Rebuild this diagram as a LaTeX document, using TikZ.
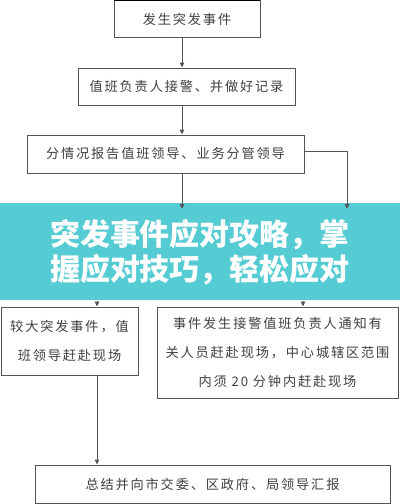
\documentclass[tikz,border=0pt]{standalone}
\usepackage{fontspec}
\setmainfont{Noto Sans CJK SC}
\newfontfamily\boxfont[LetterSpace=14]{Noto Sans CJK SC}
\usetikzlibrary{arrows.meta}
\definecolor{banner}{HTML}{55CBD4}
\definecolor{linec}{HTML}{555555}
\definecolor{txtc}{HTML}{404040}
\tikzset{
  boxnode/.style={draw=linec, line width=0.9pt, rectangle, inner sep=0pt, align=center,
    font=\boxfont\fontsize{13.2pt}{29pt}\selectfont, text=txtc},
  conn/.style={draw=linec, line width=0.9pt, -{Triangle[length=5pt,width=4.5pt]}},
  plain/.style={draw=linec, line width=0.9pt}
}
\begin{document}
\begin{tikzpicture}[x=1pt,y=-1pt]
\useasboundingbox (0,0) rectangle (400,504);
\fill[white] (0,0) rectangle (400,504);
% boxes
\node[boxnode, minimum width=146pt, minimum height=37pt] (b1) at (187,19) {发生突发事件};
\node[boxnode, minimum width=217pt, minimum height=37pt] (b2) at (186.5,86.5) {值班负责人接警、并做好记录};
\node[boxnode, minimum width=277pt, minimum height=38pt] (b3) at (165.5,154) {分情况报告值班领导、业务分管领导};
\node[boxnode, minimum width=137pt, minimum height=68pt] (b4) at (69.5,341) {较大突发事件，值\\班领导赶赴现场};
\node[boxnode, minimum width=241pt, minimum height=91pt] (b5) at (277.5,352.5) {事件发生接警值班负责人通知有\\关人员赶赴现场，中心城辖区范围\\内须 20 分钟内赶赴现场};
\node[boxnode, minimum width=355pt, minimum height=38pt] (b6) at (212.5,484) {总结并向市交委、区政府、局领导汇报};
\draw[black, line width=1.6pt] (b1.north west) -- (b1.north east);
% coordinates
\coordinate (c1) at (182,0);
\coordinate (r1) at (347,151);
\coordinate (r2) at (347,209);
\coordinate (m2) at (182,209);
\coordinate (d1) at (97,301);
\coordinate (d2) at (303,301);
% banner
\fill[banner] (0,203) rectangle (400,300);
\node[font=\bfseries\fontsize{30pt}{35pt}\selectfont, text=white, align=center, inner sep=0pt] (ban) at (200,252.5) {突发事件应对攻略，掌\\握应对技巧，轻松应对};
% connectors
\draw[conn] (b1.south -| c1) -- (b2.north -| c1);
\draw[conn] (b2.south -| c1) -- (b3.north -| c1);
\draw[conn] (b3.south -| c1) -- (m2);
\draw[conn] (b3.east |- r1) -- (r1) -- (r2);
\draw[conn] (d1) -- (b4.north -| d1);
\draw[conn] (d2) -- (b5.north -| d2);
\draw[conn] (b4.south -| d1) -- (b6.north -| d1);
\end{tikzpicture}
\end{document}
